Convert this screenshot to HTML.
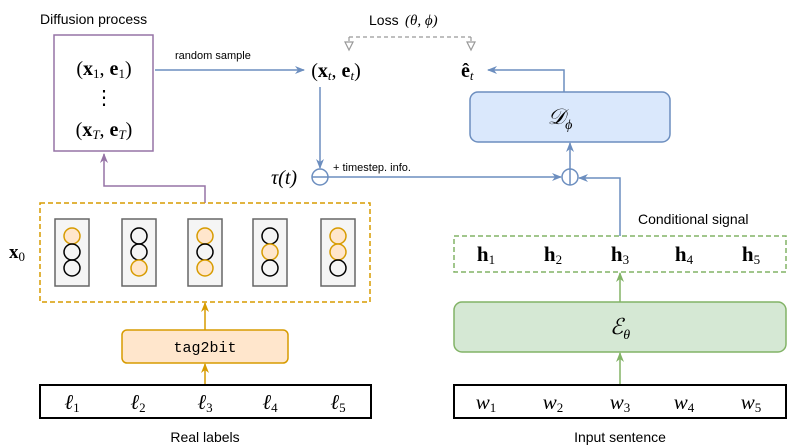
<!DOCTYPE html>
<html><head><meta charset="utf-8"><style>body{margin:0;background:#fff}svg{display:block}</style></head><body>
<svg width="793" height="447" viewBox="0 0 793 447" xmlns="http://www.w3.org/2000/svg">
<defs>
<marker id="ab" markerWidth="10" markerHeight="10" refX="9" refY="5" orient="auto" markerUnits="userSpaceOnUse"><path d="M0,1 L10,5 L0,9 L3,5z" fill="#6c8ebf"/></marker>
<marker id="ap" markerWidth="10" markerHeight="10" refX="9" refY="5" orient="auto" markerUnits="userSpaceOnUse"><path d="M0,1 L10,5 L0,9 L3,5z" fill="#9673a6"/></marker>
<marker id="ao" markerWidth="10" markerHeight="10" refX="9" refY="5" orient="auto" markerUnits="userSpaceOnUse"><path d="M0,1 L10,5 L0,9 L3,5z" fill="#d79b00"/></marker>
<marker id="ag" markerWidth="10" markerHeight="10" refX="9" refY="5" orient="auto" markerUnits="userSpaceOnUse"><path d="M0,1 L10,5 L0,9 L3,5z" fill="#82b366"/></marker>
</defs>
<rect x="54" y="35" width="99" height="116" fill="#fff" stroke="#9673a6" stroke-width="1.5"/>
<rect x="470" y="92" width="200" height="50" rx="8" fill="#dae8fc" stroke="#6c8ebf" stroke-width="1.5"/>
<g font-family="Liberation Sans, sans-serif" fill="#000">
<text x="40" y="24" font-size="14">Diffusion process</text>
<text x="175" y="59" font-size="11">random sample</text>
<text x="333" y="171" font-size="11">+ timestep. info.</text>
<text x="369" y="25" font-size="14">Loss</text>
<text x="638" y="224" font-size="14">Conditional signal</text>
<text x="205" y="442" font-size="14" text-anchor="middle">Real labels</text>
<text x="620" y="442" font-size="14" text-anchor="middle">Input sentence</text>
</g>
<g font-family="Liberation Serif, serif" fill="#000">
<text x="405" y="25" font-size="15" font-style="italic">(θ, ϕ)</text>
<text x="104" y="75" font-size="20" text-anchor="middle">(<tspan font-weight="bold">x</tspan><tspan font-size="13" dy="3">1</tspan><tspan dy="-3">, </tspan><tspan font-weight="bold">e</tspan><tspan font-size="13" dy="3">1</tspan><tspan dy="-3">)</tspan></text>
<text x="104" y="104" font-size="20" text-anchor="middle">⋮</text>
<text x="104" y="136" font-size="20" text-anchor="middle">(<tspan font-weight="bold">x</tspan><tspan font-size="13" font-style="italic" dy="3">T</tspan><tspan dy="-3">, </tspan><tspan font-weight="bold">e</tspan><tspan font-size="13" font-style="italic" dy="3">T</tspan><tspan dy="-3">)</tspan></text>
<text x="336" y="77" font-size="20" text-anchor="middle">(<tspan font-weight="bold">x</tspan><tspan font-size="13" font-style="italic" dy="3">t</tspan><tspan dy="-3">, </tspan><tspan font-weight="bold">e</tspan><tspan font-size="13" font-style="italic" dy="3">t</tspan><tspan dy="-3">)</tspan></text>
<text x="461" y="77" font-size="20"><tspan font-weight="bold">ê</tspan><tspan font-size="13" font-style="italic" dy="3">t</tspan></text>
<text x="271" y="184" font-size="20" font-style="italic">τ(t)</text>
<text x="9" y="258" font-size="19"><tspan font-weight="bold">x</tspan><tspan font-size="13" dy="3">0</tspan></text>
<text x="560" y="124" font-size="22" font-style="italic" text-anchor="middle">𝒟<tspan font-size="14" dy="5">ϕ</tspan></text>
<text x="620" y="334" font-size="22" font-style="italic" text-anchor="middle">ℰ<tspan font-size="14" dy="5">θ</tspan></text>
</g>
<path d="M205,203 V186 H104 V154" fill="none" stroke="#9673a6" stroke-width="1.5" marker-end="url(#ap)"/>
<path d="M155,70 H304" stroke="#6c8ebf" stroke-width="1.5" marker-end="url(#ab)"/>
<path d="M320,87 V168" stroke="#6c8ebf" stroke-width="1.5" marker-end="url(#ab)"/>
<circle cx="320" cy="177" r="8" fill="#fff" stroke="#6c8ebf" stroke-width="1.5"/>
<path d="M312,177 H561" stroke="#6c8ebf" stroke-width="1.5" marker-end="url(#ab)"/>
<circle cx="570" cy="177" r="8" fill="#fff" stroke="#6c8ebf" stroke-width="1.5"/>
<path d="M570,169 V185" stroke="#6c8ebf" stroke-width="1.5"/>
<path d="M620,236 V178 H579" fill="none" stroke="#6c8ebf" stroke-width="1.5" marker-end="url(#ab)"/>
<path d="M570,169 V143" stroke="#6c8ebf" stroke-width="1.5" marker-end="url(#ab)"/>
<path d="M564,92 V70 H488" fill="none" stroke="#6c8ebf" stroke-width="1.5" marker-end="url(#ab)"/>
<path d="M349,37 H471 M349,37 V44 M471,37 V44" fill="none" stroke="#999" stroke-width="1.2" stroke-dasharray="4,3"/>
<path d="M345,42 L353,42 L349,50z M467,42 L475,42 L471,50z" fill="#fff" stroke="#999" stroke-width="1.2"/>
<rect x="40" y="203" width="330" height="99" fill="none" stroke="#d79b00" stroke-width="1.5" stroke-dasharray="5,3"/>
<g stroke-width="1.5">
<g transform="translate(55,219)"><rect width="34" height="67" fill="#f5f5f5" stroke="#666"/><circle cx="17" cy="17" r="8" fill="#ffe6cc" stroke="#d79b00"/><circle cx="17" cy="33" r="8" fill="none" stroke="#000"/><circle cx="17" cy="49" r="8" fill="none" stroke="#000"/></g>
<g transform="translate(122,219)"><rect width="34" height="67" fill="#f5f5f5" stroke="#666"/><circle cx="17" cy="17" r="8" fill="none" stroke="#000"/><circle cx="17" cy="33" r="8" fill="none" stroke="#000"/><circle cx="17" cy="49" r="8" fill="#ffe6cc" stroke="#d79b00"/></g>
<g transform="translate(188,219)"><rect width="34" height="67" fill="#f5f5f5" stroke="#666"/><circle cx="17" cy="17" r="8" fill="#ffe6cc" stroke="#d79b00"/><circle cx="17" cy="33" r="8" fill="none" stroke="#000"/><circle cx="17" cy="49" r="8" fill="#ffe6cc" stroke="#d79b00"/></g>
<g transform="translate(253,219)"><rect width="34" height="67" fill="#f5f5f5" stroke="#666"/><circle cx="17" cy="17" r="8" fill="none" stroke="#000"/><circle cx="17" cy="33" r="8" fill="#ffe6cc" stroke="#d79b00"/><circle cx="17" cy="49" r="8" fill="none" stroke="#000"/></g>
<g transform="translate(321,219)"><rect width="34" height="67" fill="#f5f5f5" stroke="#666"/><circle cx="17" cy="17" r="8" fill="#ffe6cc" stroke="#d79b00"/><circle cx="17" cy="33" r="8" fill="#ffe6cc" stroke="#d79b00"/><circle cx="17" cy="49" r="8" fill="none" stroke="#000"/></g>
</g>
<path d="M205,330 V303" stroke="#d79b00" stroke-width="1.5" marker-end="url(#ao)"/>
<rect x="122" y="330" width="166" height="33" rx="5" fill="#ffe6cc" stroke="#d79b00" stroke-width="1.5"/>
<text x="205" y="352" font-family="Liberation Mono, monospace" font-size="15" text-anchor="middle">tag2bit</text>
<path d="M205,385 V364" stroke="#d79b00" stroke-width="1.5" marker-end="url(#ao)"/>
<rect x="40" y="385" width="331" height="33" fill="#fff" stroke="#000" stroke-width="2"/>
<g font-family="Liberation Serif, serif" font-size="21" font-style="italic" text-anchor="middle">
<text x="72" y="409">ℓ<tspan font-size="13" font-style="normal" dy="3">1</tspan></text>
<text x="138" y="409">ℓ<tspan font-size="13" font-style="normal" dy="3">2</tspan></text>
<text x="205" y="409">ℓ<tspan font-size="13" font-style="normal" dy="3">3</tspan></text>
<text x="270" y="409">ℓ<tspan font-size="13" font-style="normal" dy="3">4</tspan></text>
<text x="338" y="409">ℓ<tspan font-size="13" font-style="normal" dy="3">5</tspan></text>
</g>
<rect x="454" y="236" width="332" height="36" fill="none" stroke="#82b366" stroke-width="1.5" stroke-dasharray="5,3"/>
<g font-family="Liberation Serif, serif" font-size="21" font-weight="bold" text-anchor="middle">
<text x="486" y="261">h<tspan font-size="13" font-weight="normal" dy="3">1</tspan></text>
<text x="553" y="261">h<tspan font-size="13" font-weight="normal" dy="3">2</tspan></text>
<text x="620" y="261">h<tspan font-size="13" font-weight="normal" dy="3">3</tspan></text>
<text x="684" y="261">h<tspan font-size="13" font-weight="normal" dy="3">4</tspan></text>
<text x="751" y="261">h<tspan font-size="13" font-weight="normal" dy="3">5</tspan></text>
</g>
<path d="M620,302 V273" stroke="#82b366" stroke-width="1.5" marker-end="url(#ag)"/>
<rect x="454" y="302" width="332" height="50" rx="8" fill="#d5e8d4" stroke="#82b366" stroke-width="1.5"/>
<text x="620" y="334" font-family="Liberation Serif, serif" font-size="22" font-style="italic" text-anchor="middle">ℰ<tspan font-size="14" dy="5">θ</tspan></text>
<path d="M620,385 V353" stroke="#82b366" stroke-width="1.5" marker-end="url(#ag)"/>
<rect x="454" y="385" width="332" height="33" fill="#fff" stroke="#000" stroke-width="2"/>
<g font-family="Liberation Serif, serif" font-size="21" font-style="italic" text-anchor="middle">
<text x="486" y="409">w<tspan font-size="13" font-style="normal" dy="3">1</tspan></text>
<text x="553" y="409">w<tspan font-size="13" font-style="normal" dy="3">2</tspan></text>
<text x="620" y="409">w<tspan font-size="13" font-style="normal" dy="3">3</tspan></text>
<text x="684" y="409">w<tspan font-size="13" font-style="normal" dy="3">4</tspan></text>
<text x="751" y="409">w<tspan font-size="13" font-style="normal" dy="3">5</tspan></text>
</g>
</svg>
</body></html>
